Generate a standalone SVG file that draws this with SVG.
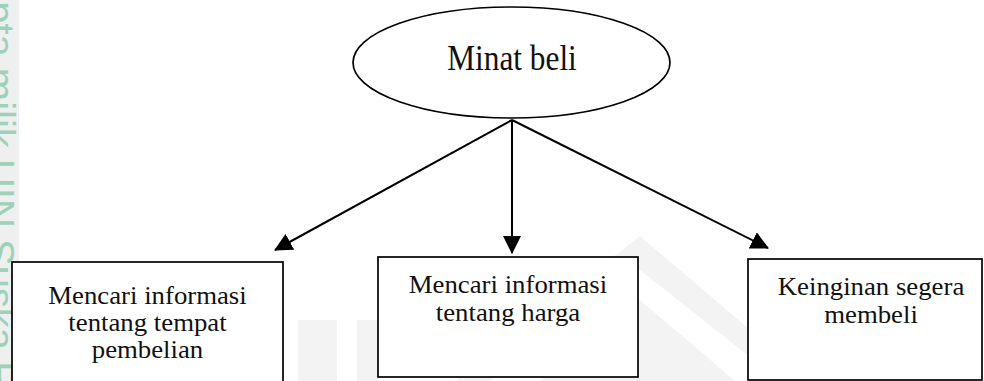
<svg xmlns="http://www.w3.org/2000/svg" width="984" height="381" viewBox="0 0 984 381">
  <defs>
    <marker id="ah" markerUnits="userSpaceOnUse" markerWidth="18" markerHeight="18" viewBox="0 0 18 18" refX="17" refY="9" orient="auto">
      <path d="M0,0 L18,9 L0,18 Z" fill="#000"/>
    </marker>
    <style>
      .node { fill: #fff; stroke: #000; stroke-width: 1.7; }
      .lbl { font-family: "Liberation Serif", "Times New Roman", serif; font-size: 26px; fill: #111; text-anchor: middle; }
      .edge { stroke: #000; stroke-width: 2; fill: none; marker-end: url(#ah); }
      .wm { fill: #f2f3f2; }
    </style>
  </defs>

  <rect width="984" height="381" fill="#fff"/>

  <g id="watermark">
    <rect x="0" y="0" width="19" height="381" fill="#eef0ef"/>
    <text x="-110" y="14" transform="rotate(90)" font-family="'Liberation Sans', Arial, sans-serif" font-size="40" fill="#9fd0b9">Hak cipta milik UIN Suska Riau</text>
    <path class="wm" d="M298 320 H337 V381 H298 Z"/>
    <path class="wm" d="M357 320 H378 V381 H357 Z"/>
    <path class="wm" d="M455 381 L640 236 L810 381 L780 381 L640 270 L490 381 Z"/>
    <path class="wm" d="M540 381 L640 300 L735 381 Z"/>
  </g>

  <g id="connectors">
    <line class="edge" x1="512" y1="120" x2="275" y2="250"/>
    <line class="edge" x1="512" y1="120" x2="512" y2="253"/>
    <line class="edge" x1="512" y1="120" x2="768" y2="248"/>
  </g>

  <g id="minat-beli">
    <ellipse class="node" cx="511.5" cy="62.5" rx="158.5" ry="55.5"/>
    <text class="lbl" transform="translate(512 70) scale(0.87 1)" style="font-size:36px">Minat beli</text>
  </g>

  <g id="tempat">
    <rect class="node" x="12" y="262" width="271" height="130"/>
    <text class="lbl" transform="translate(147.5 304) scale(1.03 1)">Mencari informasi</text>
    <text class="lbl" transform="translate(147.5 331) scale(1.03 1)">tentang tempat</text>
    <text class="lbl" transform="translate(147.5 358) scale(1.03 1)">pembelian</text>
  </g>

  <g id="harga">
    <rect class="node" x="378" y="257" width="260" height="120"/>
    <text class="lbl" transform="translate(508 293) scale(1.03 1)">Mencari informasi</text>
    <text class="lbl" transform="translate(508 321) scale(1.03 1)">tentang harga</text>
  </g>

  <g id="keinginan">
    <rect class="node" x="748" y="259" width="234" height="121"/>
    <text class="lbl" transform="translate(871 295) scale(1.03 1)">Keinginan segera</text>
    <text class="lbl" transform="translate(871 323) scale(1.03 1)">membeli</text>
  </g>
</svg>
